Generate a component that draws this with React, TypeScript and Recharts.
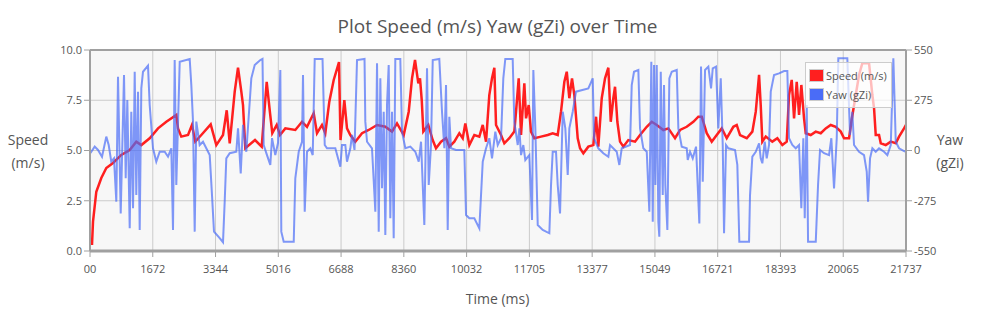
import React from "react";
import {
  LineChart,
  Line,
  XAxis,
  YAxis,
  CartesianGrid,
  Legend,
  ReferenceLine,
} from "recharts";

const TIME_TICKS = [
  0, 1672, 3344, 5016, 6688, 8360, 10032, 11705, 13377, 15049, 16721, 18393,
  20065, 21737,
];
const TIME_TICK_LABELS = [
  "00", "1672", "3344", "5016", "6688", "8360", "10032", "11705", "13377",
  "15049", "16721", "18393", "20065", "21737",
];
const SPEED_TICKS = [0, 2.5, 5, 7.5, 10];
const YAW_TICKS = [-550, -275, 0, 275, 550];

// [time ms, speed m/s]
const speedSamples: [number, number][] = [
  [53, 0.3], [80, 1.46], [168, 2.95], [301, 3.63], [434, 4.13], [613, 4.38],
  [834, 4.78], [1058, 5.02], [1233, 5.44], [1367, 5.27], [1590, 5.61],
  [1812, 6.1], [2033, 6.43], [2299, 6.77], [2344, 6.1], [2432, 5.69],
  [2611, 5.77], [2717, 6.27], [2805, 5.44], [2965, 5.77], [3215, 6.3],
  [3365, 5.27], [3543, 5.77], [3642, 7.0], [3722, 5.36], [3855, 7.93],
  [3943, 9.12], [4031, 7.93], [4076, 7.26], [4137, 5.11], [4396, 5.52],
  [4574, 5.19], [4707, 8.42], [4795, 6.87], [4856, 5.86], [4974, 6.27],
  [5062, 5.77], [5203, 6.1], [5469, 6.02], [5648, 6.43], [5781, 6.18],
  [5959, 6.85], [6047, 5.86], [6180, 6.27], [6268, 5.86], [6375, 7.43],
  [6492, 8.51], [6633, 9.4], [6673, 5.52], [6775, 7.51], [6846, 6.1],
  [6935, 5.77], [7068, 5.44], [7246, 5.86], [7425, 6.02], [7646, 6.27],
  [7867, 6.18], [8045, 5.94], [8178, 6.35], [8357, 5.77], [8490, 6.93],
  [8578, 8.59], [8658, 9.5], [8746, 8.34], [8791, 8.59], [8837, 7.51],
  [8879, 5.94], [9012, 6.27], [9129, 5.52], [9217, 5.11], [9351, 5.44],
  [9484, 5.61], [9572, 5.19], [9705, 5.44], [9838, 5.86], [9929, 5.61],
  [9998, 6.35], [10105, 5.27], [10238, 5.77], [10371, 5.69], [10462, 6.27],
  [10550, 5.44], [10637, 7.76], [10709, 8.59], [10771, 9.12], [10816, 6.27],
  [10949, 5.77], [11037, 5.36], [11170, 5.61], [11303, 5.94], [11349, 6.93],
  [11420, 8.59], [11482, 5.77], [11570, 8.34], [11615, 6.6], [11687, 7.26],
  [11748, 5.94], [11836, 5.61], [12015, 5.69], [12193, 5.77], [12326, 5.86],
  [12459, 5.77], [12547, 6.93], [12636, 8.42], [12700, 8.92], [12769, 7.6],
  [12840, 8.59], [12902, 7.76], [12992, 5.61], [13054, 5.11], [13142, 4.86],
  [13275, 5.19], [13408, 5.27], [13480, 6.68], [13541, 5.19], [13632, 7.6],
  [13720, 8.59], [13808, 9.12], [13872, 6.43], [13941, 7.6], [13986, 8.17],
  [14048, 6.43], [14119, 5.44], [14207, 5.19], [14340, 5.52], [14519, 5.44],
  [14652, 5.77], [14831, 6.18], [14964, 6.43], [15097, 6.27], [15273, 6.02],
  [15406, 6.1], [15584, 5.61], [15718, 6.02], [15896, 6.18], [16072, 6.43],
  [16205, 6.68], [16296, 6.68], [16429, 5.86], [16562, 5.44], [16695, 5.77],
  [16829, 6.1], [16962, 5.61], [17138, 6.18], [17228, 6.27], [17316, 5.77],
  [17495, 5.61], [17644, 5.94], [17735, 6.93], [17823, 8.76], [17867, 7.26],
  [17910, 5.44], [18001, 5.69], [18176, 5.44], [18310, 5.61], [18443, 5.27],
  [18560, 5.44], [18621, 7.76], [18693, 8.51], [18755, 6.6], [18826, 8.42],
  [18888, 6.77], [18949, 8.26], [19021, 6.6], [19066, 5.86], [19199, 5.77],
  [19332, 5.94], [19466, 5.86], [19599, 6.1], [19732, 6.27], [19865, 6.18],
  [19999, 5.94], [20087, 5.61], [20220, 5.61], [20281, 6.43], [20398, 7.76],
  [20486, 8.76], [20574, 9.34], [20753, 9.34], [20841, 7.76], [20886, 7.1],
  [20931, 5.77], [21019, 5.77], [21065, 5.36], [21198, 5.27], [21331, 5.44],
  [21464, 5.36], [21552, 5.69], [21685, 6.1], [21737, 6.27],
];

// [time ms, yaw gZi]
const yawSamples: [number, number][] = [
  [13, -14], [125, 21], [213, 3], [320, -34], [434, 76], [498, 30],
  [567, -61], [639, -43], [701, -280], [746, 404], [818, -344], [906, 413],
  [951, -152], [994, 276], [1058, -426], [1100, 212], [1146, -316],
  [1191, 431], [1233, -244], [1279, 322], [1324, -435], [1367, 340],
  [1412, 431], [1545, 464], [1590, 249], [1678, 12], [1766, -61], [1857, -7],
  [1990, -7], [2078, -34], [2166, 12], [2211, -435], [2256, 495],
  [2299, -189], [2390, 486], [2656, 501], [2699, 358], [2744, 158],
  [2789, -444], [2832, 158], [2922, 30], [3010, 48], [3098, 12], [3189, -25],
  [3250, -244], [3303, -444], [3455, -480], [3543, -502], [3588, -280],
  [3631, -43], [3722, -15], [3897, -7], [3943, 121], [4015, -125],
  [4076, 140], [4164, -7], [4297, 395], [4388, 468], [4537, 495], [4595, 501],
  [4627, 30], [4715, -25], [4803, -79], [4849, 68], [4936, -25], [5008, 41],
  [5070, 441], [5096, -444], [5160, -499], [5427, -499], [5469, -152],
  [5560, -7], [5648, 48], [5674, 413], [5720, -335], [5781, -7], [5869, 12],
  [5933, -25], [5986, 501], [6194, 501], [6253, 30], [6314, 12], [6535, 12],
  [6668, -89], [6713, 30], [6801, 30], [6846, -61], [6935, 12], [6980, 85],
  [7046, 3], [7113, 495], [7313, 501], [7334, 158], [7380, 48], [7512, 12],
  [7601, -335], [7646, 477], [7691, -444], [7734, 395], [7779, -207],
  [7824, 212], [7867, -462], [7912, 249], [7957, 468], [8000, -371],
  [8045, 212], [8090, -480], [8133, 501], [8266, 501], [8312, 103],
  [8400, 12], [8533, 21], [8666, -7], [8757, -61], [8818, 48], [8906, -408],
  [8978, 450], [9023, -189], [9084, 30], [9130, 495], [9305, 501],
  [9377, 212], [9439, 12], [9484, 358], [9529, -435], [9572, 185],
  [9617, 12], [9750, 3], [9971, 3], [10017, -353], [10105, -371],
  [10238, -371], [10371, -426], [10462, -61], [10550, 12], [10637, 67],
  [10709, -43], [10797, 103], [10861, 30], [10949, 67], [11010, 395],
  [11063, 501], [11260, 501], [11303, 158], [11394, 30], [11437, 121],
  [11482, -25], [11543, 30], [11596, -52], [11703, -25], [11775, -380],
  [11810, 441], [11863, 121], [11927, -408], [12060, -435], [12236, -453],
  [12281, -189], [12326, -7], [12414, -7], [12459, -189], [12521, -344],
  [12593, 212], [12662, 121], [12726, -134], [12769, 121], [12859, 212],
  [12947, 322], [13275, 340], [13392, 395], [13427, 67], [13541, 12],
  [13674, -15], [13808, -34], [13853, 30], [14031, -7], [14101, -79],
  [14165, 12], [14386, 30], [14431, 358], [14492, 431], [14607, 441],
  [14652, 121], [14740, 12], [14831, -7], [14900, -335], [14953, 486],
  [14991, -390], [15025, 468], [15060, -189], [15097, 468], [15140, -390],
  [15166, -472], [15204, 431], [15257, -244], [15291, 358], [15326, -189],
  [15380, -435], [15433, 395], [15497, 431], [15630, 441], [15673, 121],
  [15763, 21], [15896, 12], [15923, -52], [15984, -7], [16056, -43],
  [16144, 21], [16232, -399], [16277, 459], [16323, -171], [16384, 441],
  [16472, 459], [16544, 340], [16589, 450], [16677, 459], [16738, 121],
  [16802, 395], [16855, 30], [16890, -453], [16943, 30], [17004, 12],
  [17183, 3], [17244, -79], [17297, -499], [17556, -499], [17582, -244],
  [17644, -34], [17735, -7], [17823, 39], [17867, -43], [17910, -70],
  [17974, 48], [18027, -43], [18089, 30], [18134, 322], [18222, 413],
  [18355, 422], [18488, 435], [18576, 435], [18621, 67], [18709, 30],
  [18800, 12], [18888, 30], [18949, -316], [19002, 67], [19040, -371],
  [19093, 249], [19128, -499], [19333, -499], [19394, -189], [19447, 3],
  [19554, -15], [19687, -25], [19748, 67], [19820, -207], [19892, 67],
  [19934, 505], [20174, 505], [20246, 85], [20307, 212], [20353, 30],
  [20486, -7], [20619, -25], [20691, -116], [20726, -280], [20779, -43],
  [20841, 12], [20931, -7], [21019, 12], [21152, -7], [21240, -25],
  [21331, 30], [21400, 505], [21464, 48], [21552, 12], [21685, -3],
  [21737, -7],
];

const speedData = speedSamples.map(([t, v]) => ({ t, speed: v }));
const yawData = yawSamples.map(([t, v]) => ({ t, yaw: v }));

const FONT = "'Open Sans', sans-serif";
const TEXT = "#555";
const FRAME = "#a0a0a0";
const SPEED_COLOR = "#ff1f1f";
const YAW_COLOR = "#4a6cf7";

const LegendBox = (props: any) => {
  const items = props.payload || [];
  return (
    <div
      style={{
        background: "rgba(255,255,255,0.7)",
        border: "1px solid #ccc",
        padding: "3px 3px 3px 3px",
        fontFamily: FONT,
        fontSize: 11,
        color: TEXT,
      }}
    >
      {items.map((item: any) => (
        <div
          key={item.value}
          style={{ display: "flex", alignItems: "center", height: 19 }}
        >
          <span
            style={{
              display: "inline-block",
              width: 13,
              height: 11,
              background: item.color,
              border: "1px solid #ccc",
              marginRight: 2,
            }}
          />
          {item.value}
        </div>
      ))}
    </div>
  );
};

export default function App() {
  return (
    <div
      style={{
        position: "absolute",
        left: 0,
        top: 0,
        width: 983,
        height: 312,
        background: "#fff",
        fontFamily: FONT,
      }}
    >
      <LineChart
        width={983}
        height={312}
        margin={{ top: 50, right: 17, bottom: 31, left: 30 }}
        style={{ fontFamily: FONT }}
      >
        <CartesianGrid yAxisId="speed" stroke="#cbcbcb" fill="#f7f7f7" />
        <XAxis
          dataKey="t"
          type="number"
          domain={[0, 21737]}
          ticks={TIME_TICKS}
          interval={0}
          allowDataOverflow
          height={30}
          tickFormatter={(v: number) => TIME_TICK_LABELS[TIME_TICKS.indexOf(v)]}
          tick={{ fill: TEXT, fontSize: 11 }}
          tickSize={6}
          tickMargin={8}
          stroke={FRAME}
          axisLine={{ stroke: FRAME, strokeWidth: 3 }}
        />
        <YAxis
          yAxisId="speed"
          domain={[0, 10]}
          ticks={SPEED_TICKS}
          interval={0}
          width={60}
          tickFormatter={(v: number) => v.toFixed(1)}
          tick={{ fill: TEXT, fontSize: 11 }}
          tickSize={6}
          stroke={FRAME}
          axisLine={{ stroke: FRAME, strokeWidth: 2 }}
        />
        <YAxis
          yAxisId="yaw"
          orientation="right"
          domain={[-550, 550]}
          ticks={YAW_TICKS}
          interval={0}
          width={60}
          tick={{ fill: TEXT, fontSize: 11 }}
          tickSize={6}
          stroke={FRAME}
          axisLine={{ stroke: FRAME, strokeWidth: 2 }}
        />
        <ReferenceLine yAxisId="speed" y={10} stroke={FRAME} strokeWidth={2} />
        <Legend
          layout="vertical"
          align="center"
          verticalAlign="middle"
          content={LegendBox}
          wrapperStyle={{ left: 805, top: 62, width: 87 }}
        />
        <Line
          yAxisId="speed"
          data={speedData}
          dataKey="speed"
          name="Speed (m/s)"
          type="linear"
          stroke={SPEED_COLOR}
          strokeWidth={2.5}
          dot={false}
          activeDot={false}
          isAnimationActive={false}
        />
        <Line
          yAxisId="yaw"
          data={yawData}
          dataKey="yaw"
          name="Yaw (gZi)"
          type="linear"
          stroke={YAW_COLOR}
          strokeOpacity={0.7}
          strokeWidth={2}
          dot={false}
          activeDot={false}
          isAnimationActive={false}
        />
      </LineChart>
      <div
        style={{
          position: "absolute",
          left: 0,
          top: 14,
          width: 995,
          textAlign: "center",
          fontSize: 19,
          lineHeight: "24px",
          color: TEXT,
        }}
      >
        Plot Speed (m/s) Yaw (gZi) over Time
      </div>
      <div
        style={{
          position: "absolute",
          left: 0,
          top: 128,
          width: 56,
          textAlign: "center",
          fontSize: 14,
          lineHeight: "23px",
          color: TEXT,
        }}
      >
        Speed
        <br />
        (m/s)
      </div>
      <div
        style={{
          position: "absolute",
          left: 922,
          top: 128,
          width: 56,
          textAlign: "center",
          fontSize: 14,
          lineHeight: "23px",
          color: TEXT,
        }}
      >
        Yaw
        <br />
        (gZi)
      </div>
      <div
        style={{
          position: "absolute",
          left: 0,
          top: 289,
          width: 995,
          textAlign: "center",
          fontSize: 14,
          lineHeight: "20px",
          color: TEXT,
        }}
      >
        Time (ms)
      </div>
    </div>
  );
}
